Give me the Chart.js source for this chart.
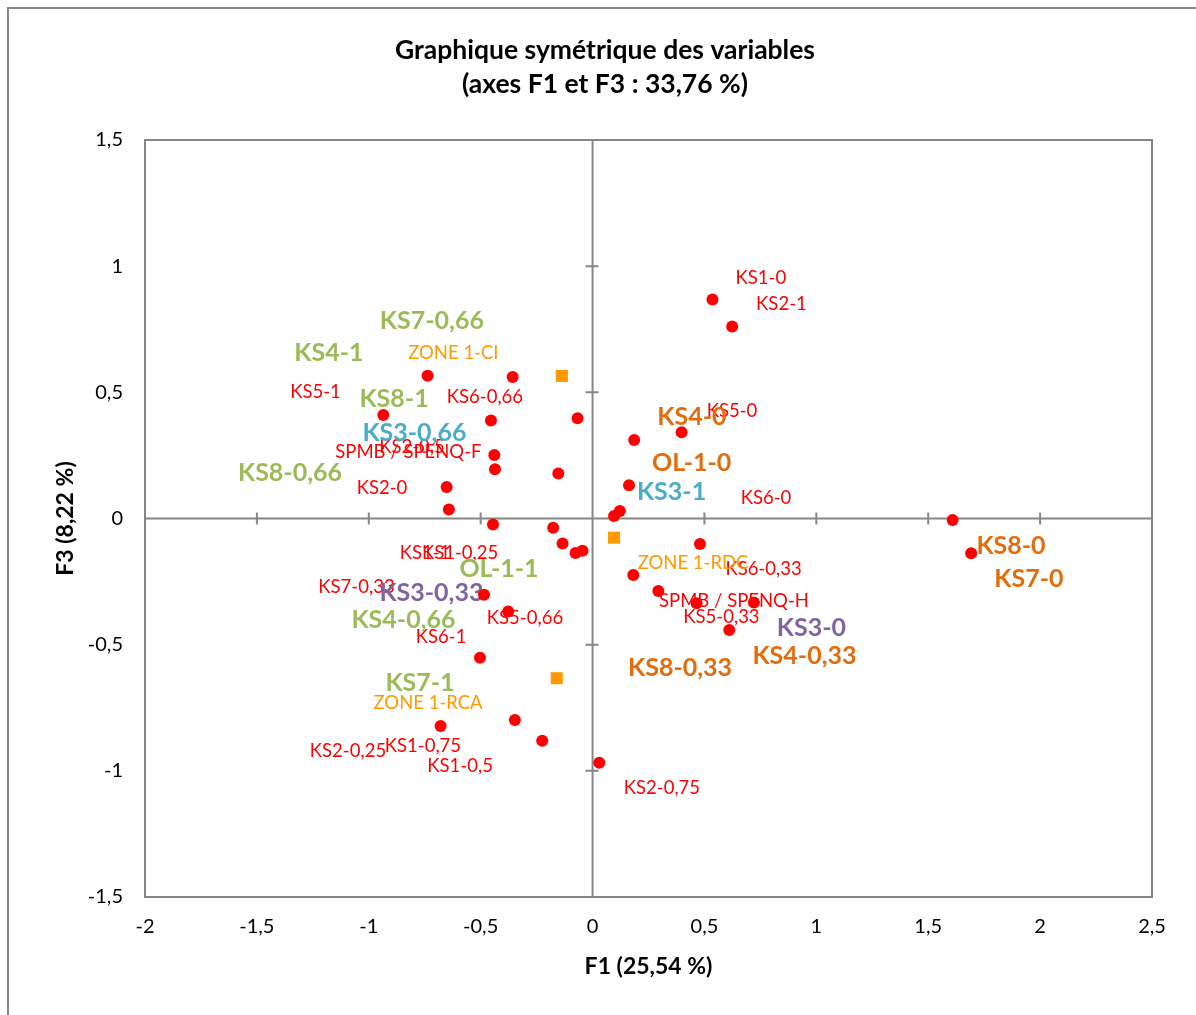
<!DOCTYPE html>
<html lang="fr">
<head>
<meta charset="utf-8">
<title>Graphique symétrique des variables</title>
<script src="https://cdn.jsdelivr.net/npm/chart.js@4"></script>
<style>
  html, body { margin: 0; padding: 0; background: #fff; }
  #wrap { width: 1196px; height: 1015px; }
</style>
</head>
<body>
<div id="wrap"><canvas id="acp" width="1196" height="1015"></canvas></div>
<script>
// Coordonnées des modalités (variables) sur F1 / F3
const varF1 = [0.536, 0.624, -0.737, -0.357, -0.935, -0.454, -0.067, 0.186, 0.398, -0.439,
               -0.436, -0.153, -0.652, 0.163, -0.642, 0.122, 0.096, 1.609, 1.692, -0.445,
               -0.176, -0.134, -0.076, -0.045, 0.480, 0.182, 0.294, 0.465, 0.721, 0.611,
               -0.485, -0.377, -0.503, -0.679, -0.347, -0.225, 0.030];
const varF3 = [0.868, 0.761, 0.566, 0.561, 0.410, 0.388, 0.397, 0.311, 0.342, 0.252,
               0.195, 0.178, 0.125, 0.132, 0.036, 0.030, 0.010, -0.006, -0.138, -0.024,
               -0.037, -0.099, -0.137, -0.128, -0.101, -0.224, -0.287, -0.336, -0.333, -0.442,
               -0.302, -0.369, -0.552, -0.822, -0.799, -0.881, -0.968];

// Zones (variables supplémentaires)
const zoneF1 = [-0.137, 0.096, -0.160];
const zoneF3 = [0.565, -0.076, -0.633];

// Étiquettes placées à la main sur le graphique (position en unités F1 / F3)
const labelText = [
  'KS1-0', 'KS2-1', 'KS5-1', 'KS6-0,66', 'KS2-0,5', 'SPMB / SPENQ-F', 'KS2-0', 'KS5-0', 'KS6-0',
  'KS1-1', 'KS1-0,25', 'KS7-0,33', 'KS5-0,66', 'KS6-1', 'KS2-0,25', 'KS1-0,75', 'KS1-0,5',
  'KS2-0,75', 'KS6-0,33', 'SPMB / SPENQ-H', 'KS5-0,33',
  'ZONE 1-CI', 'ZONE 1-RDC', 'ZONE 1-RCA',
  'KS7-0,66', 'KS4-1', 'KS8-1', 'KS8-0,66', 'OL-1-1', 'KS4-0,66', 'KS7-1',
  'KS3-0,66', 'KS3-1',
  'KS3-0,33', 'KS3-0',
  'KS4-0', 'OL-1-0', 'KS8-0', 'KS7-0', 'KS4-0,33', 'KS8-0,33'
];
const labelF1 = [
  0.752, 0.844, -1.238, -0.481, -0.807, -0.823, -0.941, 0.623, 0.775,
  -0.749, -0.592, -1.055, -0.302, -0.677, -1.093, -0.758, -0.592,
  0.310, 0.764, 0.632, 0.576,
  -0.622, 0.449, -0.735,
  -0.718, -1.178, -0.887, -1.352, -0.418, -0.845, -0.771,
  -0.796, 0.353,
  -0.720, 0.978,
  0.444, 0.443, 1.870, 1.950, 0.947, 0.391
];
const labelF3 = [
  0.953, 0.850, 0.501, 0.483, 0.285, 0.265, 0.122, 0.427, 0.080,
  -0.137, -0.137, -0.272, -0.394, -0.470, -0.921, -0.902, -0.981,
  -1.068, -0.200, -0.327, -0.390,
  0.656, -0.176, -0.731,
  0.784, 0.656, 0.475, 0.180, -0.200, -0.402, -0.652,
  0.340, 0.104,
  -0.295, -0.434,
  0.403, 0.221, -0.108, -0.241, -0.545, -0.593
];
// groupe de chaque étiquette : var, zone, vert, bleu, violet, orange
const labelGroup = [
  'var', 'var', 'var', 'var', 'var', 'var', 'var', 'var', 'var',
  'var', 'var', 'var', 'var', 'var', 'var', 'var', 'var',
  'var', 'var', 'var', 'var',
  'zone', 'zone', 'zone',
  'vert', 'vert', 'vert', 'vert', 'vert', 'vert', 'vert',
  'bleu', 'bleu',
  'violet', 'violet',
  'orange', 'orange', 'orange', 'orange', 'orange', 'orange'
];

const FONT = "Lato, 'Open Sans', sans-serif";
const GRIS = '#868686';

const styleEtiquette = {
  var:    { color: '#ff0000', font: `18.5px ${FONT}` },
  zone:   { color: '#ff9900', font: `18.5px ${FONT}` },
  vert:   { color: '#9bbb59', font: `bold 25px ${FONT}` },
  bleu:   { color: '#4bacc6', font: `bold 25px ${FONT}` },
  violet: { color: '#8064a2', font: `bold 25px ${FONT}` },
  orange: { color: '#e46c0a', font: `bold 25px ${FONT}` }
};

const virgule = v => String(Math.round(v * 10) / 10).replace('.', ',');

// Cadre du graphique, bordure de la zone de tracé et axes passant par l'origine
const axesOrigine = {
  id: 'axesOrigine',
  beforeDraw(chart) {
    const ctx = chart.ctx;
    ctx.save();
    ctx.fillStyle = '#fff';
    ctx.fillRect(0, 0, chart.width, chart.height);
    ctx.strokeStyle = GRIS;
    ctx.lineWidth = 2;
    ctx.strokeRect(8, 8, chart.width + 20, chart.height + 20);
    ctx.restore();
  },
  beforeDatasetsDraw(chart) {
    const { ctx, chartArea: a, scales: { x, y } } = chart;
    ctx.save();
    ctx.strokeStyle = GRIS;
    ctx.lineWidth = 2;
    ctx.strokeRect(a.left, a.top, a.right - a.left, a.bottom - a.top);

    const x0 = x.getPixelForValue(0);
    const y0 = y.getPixelForValue(0);
    ctx.beginPath();
    ctx.moveTo(a.left, y0); ctx.lineTo(a.right, y0);
    ctx.moveTo(x0, a.top); ctx.lineTo(x0, a.bottom);
    x.ticks.forEach(t => {
      if (t.value === 0 || t.value === x.min || t.value === x.max) return;
      const px = x.getPixelForValue(t.value);
      ctx.moveTo(px, y0 - 6); ctx.lineTo(px, y0 + 6);
    });
    y.ticks.forEach(t => {
      if (t.value === 0 || t.value === y.min || t.value === y.max) return;
      const py = y.getPixelForValue(t.value);
      ctx.moveTo(x0 - 7, py); ctx.lineTo(x0 + 6, py);
    });
    ctx.stroke();

    // étiquettes
    ctx.textAlign = 'center';
    ctx.textBaseline = 'middle';
    labelText.forEach((txt, i) => {
      const s = styleEtiquette[labelGroup[i]];
      ctx.font = s.font;
      ctx.fillStyle = s.color;
      ctx.fillText(txt, x.getPixelForValue(labelF1[i]), y.getPixelForValue(labelF3[i]));
    });
    ctx.restore();
  }
};

const ticksCommuns = {
  color: '#000',
  font: { family: FONT, size: 20 },
  stepSize: 0.5,
  callback: v => virgule(v)
};

new Chart(document.getElementById('acp'), {
  type: 'scatter',
  data: {
    datasets: [
      {
        label: 'Variables',
        data: varF1.map((v, i) => ({ x: v, y: varF3[i] })),
        pointStyle: 'circle',
        pointRadius: 6,
        pointBackgroundColor: '#ff0000',
        pointBorderWidth: 0
      },
      {
        label: 'Zones',
        data: zoneF1.map((v, i) => ({ x: v, y: zoneF3[i] })),
        pointStyle: 'rect',
        pointRadius: 8.5,
        pointBackgroundColor: '#ff9900',
        pointBorderWidth: 0
      }
    ]
  },
  options: {
    responsive: false,
    animation: false,
    layout: { padding: { top: 0, left: 58, right: 44, bottom: 30 } },
    plugins: {
      legend: { display: false },
      tooltip: { enabled: false },
      title: {
        display: true,
        text: ['Graphique symétrique des variables', '(axes F1 et F3 : 33,76 %)'],
        color: '#000',
        font: { family: FONT, size: 26.5, weight: 'bold', lineHeight: 1.283 },
        padding: { top: 33, bottom: 39 }
      }
    },
    scales: {
      x: {
        type: 'linear',
        min: -2,
        max: 2.5,
        grid: { display: false },
        border: { display: false },
        ticks: { ...ticksCommuns, padding: 10, maxRotation: 0 },
        title: {
          display: true,
          text: 'F1 (25,54 %)',
          color: '#000',
          font: { family: FONT, size: 23, weight: 'bold', lineHeight: 1.2 },
          padding: { top: 0, bottom: 5 }
        },
        afterFit: s => { s.height = 88; }
      },
      y: {
        type: 'linear',
        min: -1.5,
        max: 1.5,
        grid: { display: false },
        border: { display: false },
        ticks: { ...ticksCommuns, padding: 14 },
        title: {
          display: true,
          text: 'F3 (8,22 %)',
          color: '#000',
          font: { family: FONT, size: 23, weight: 'bold', lineHeight: 1.2 },
          padding: { top: -6, bottom: 0 }
        },
        afterFit: s => { s.width = 87; }
      }
    }
  },
  plugins: [axesOrigine]
});
</script>
</body>
</html>
